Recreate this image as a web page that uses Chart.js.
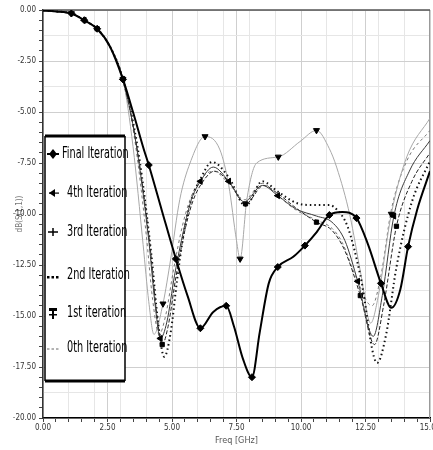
<!DOCTYPE html>
<html>
<head>
<meta charset="utf-8">
<script src="https://cdn.jsdelivr.net/npm/chart.js@4.4.0/dist/chart.umd.min.js"></script>
<style>
  html, body { margin: 0; padding: 0; background: #fff; }
  #wrap { width: 433px; height: 450px; }
</style>
</head>
<body>
<div id="wrap"><canvas id="s11" width="433" height="450"></canvas></div>
<script>
// shared low-frequency part (all iterations overlap here)
const headF  = [0, 0.5, 1.1, 1.6, 2.1, 2.6, 3.1];
const headDb = [-0.03, -0.07, -0.17, -0.5, -0.92, -1.8, -3.4];

const finalF  = headF.concat([3.5, 3.9, 4.1, 4.6, 5.15, 5.6, 6.1, 6.6, 7.1, 7.4, 7.75, 8.1, 8.4, 8.75, 9.1, 9.7, 10.15, 10.6, 11.1, 11.6, 12.15, 12.6, 13.1, 13.5, 13.85, 14.15, 14.5, 15]);
const finalDb = headDb.concat([-5.05, -6.8, -7.6, -9.8, -12.2, -14.0, -15.6, -14.8, -14.5, -15.5, -17.1, -18.0, -15.8, -13.4, -12.6, -12.1, -11.55, -10.9, -10.05, -9.9, -10.2, -11.5, -13.4, -14.6, -13.7, -11.6, -9.8, -7.9]);
const finalMarks = [1.1, 1.6, 2.1, 3.1, 4.1, 5.15, 6.1, 7.1, 8.1, 9.1, 10.15, 11.1, 12.15, 13.1, 14.15];

const it4F  = headF.concat([3.6, 4.1, 4.35, 4.55, 4.8, 5.1, 5.45, 5.75, 6.1, 6.6, 7.2, 7.8, 8.5, 9.1, 9.8, 10.6, 11.2, 11.7, 12.2, 12.8, 13.15, 13.6, 14.2, 15]);
const it4Db = headDb.concat([-6.5, -11.3, -14.5, -16.1, -15.3, -13.0, -10.8, -9.3, -8.4, -7.7, -8.4, -9.4, -8.6, -9.1, -9.75, -10.1, -10.4, -11.3, -13.3, -16.0, -14.0, -10.1, -7.9, -6.4]);
const it4Marks = [1.6, 3.1, 4.55, 6.1, 7.2, 9.1, 12.2, 13.6];

const it3F  = headF.concat([3.65, 4.15, 4.4, 4.62, 4.85, 5.15, 5.5, 5.8, 6.15, 6.65, 7.25, 7.85, 8.55, 9.1, 9.8, 10.6, 11.2, 11.7, 12.3, 12.85, 13.2, 13.7, 14.3, 15]);
const it3Db = headDb.concat([-6.8, -11.6, -14.8, -16.4, -15.5, -13.1, -10.8, -9.4, -8.5, -7.9, -8.5, -9.5, -8.6, -9.0, -9.7, -10.4, -10.8, -11.8, -14.0, -16.4, -14.5, -10.6, -8.4, -7.0]);
const it3Marks = [2.1, 4.62, 7.85, 10.6, 12.3, 13.7];

const it2F  = headF.concat([3.7, 4.2, 4.45, 4.7, 4.95, 5.2, 5.45, 5.7, 6.1, 6.55, 7.2, 7.85, 8.5, 9.1, 9.8, 10.4, 11.1, 11.4, 11.8, 12.3, 12.95, 13.3, 13.7, 14.3, 15]);
const it2Db = headDb.concat([-7.0, -12.0, -15.2, -17.0, -15.8, -13.2, -11.0, -9.5, -8.3, -7.45, -8.2, -9.6, -8.4, -8.9, -9.45, -9.56, -9.56, -9.8, -10.6, -13.0, -17.3, -15.9, -12.6, -9.4, -7.4]);

const it1F  = headF.concat([3.49, 3.88, 4.1, 4.3, 4.65, 4.95, 5.3, 5.7, 6.28, 6.86, 7.2, 7.5, 7.64, 7.9, 8.28, 9.12, 9.96, 10.6, 11.1, 11.38, 11.9, 12.3, 12.7, 13.0, 13.5, 14.1, 15]);
const it1Db = headDb.concat([-6.7, -11.5, -14.3, -15.9, -14.4, -12.2, -9.3, -7.5, -6.2, -6.86, -8.6, -11.3, -12.2, -9.3, -7.5, -7.2, -6.45, -5.9, -6.8, -7.7, -10.1, -12.8, -15.35, -14.0, -10.0, -7.2, -5.3]);
const it1Marks = [1.1, 3.1, 4.65, 6.28, 7.64, 9.12, 10.6, 13.5];

const it0F  = headF.concat([3.55, 4.0, 4.25, 4.5, 4.75, 5.05, 5.4, 5.7, 6.05, 6.6, 7.2, 7.8, 8.5, 9.1, 9.8, 10.6, 11.2, 11.6, 12.1, 12.75, 13.1, 13.5, 14.1, 15]);
const it0Db = headDb.concat([-6.3, -11.0, -14.2, -15.9, -15.0, -12.8, -10.6, -9.3, -8.4, -7.9, -8.5, -9.3, -8.5, -9.1, -9.8, -10.3, -10.7, -11.4, -13.0, -14.5, -13.0, -9.8, -7.4, -5.9]);

const seriesNames = ['Final Iteration', '4th Iteration', '3rd Iteration', '2nd Iteration', '1st iteration', '0th Iteration'];
const xTicks = [0, 2.5, 5, 7.5, 10, 12.5, 15];
const yTicks = [0, -2.5, -5, -7.5, -10, -12.5, -15, -17.5, -20];

const NARROW = "'Liberation Sans Narrow', 'DejaVu Sans Condensed', sans-serif";

function series(label, F, dB, marks, style) {
  return Object.assign({
    label: label,
    data: F.map((f, i) => ({ x: f, y: dB[i] })),
    cubicInterpolationMode: 'monotone',
    pointRadius: c => marks.includes(F[c.dataIndex]) ? 3.5 : 0,
    pointHoverRadius: 0,
    pointBackgroundColor: '#000',
    pointBorderColor: '#000',
    pointBorderWidth: 1,
    fill: false
  }, style);
}

const near = (v, s) => Math.abs(v / s - Math.round(v / s)) < 1e-6;

// legend drawn inside the plot like the original
const legendBox = {
  id: 'legendBox',
  afterDraw(chart) {
    const ctx = chart.ctx;
    const a = chart.chartArea;
    const L = a.left + 2, T = a.top + 126, W = 80, H = 245;
    ctx.save();
    ctx.fillStyle = '#fff';
    ctx.fillRect(L, T, W, H);
    ctx.strokeStyle = '#000';
    ctx.lineWidth = 1.5;
    ctx.beginPath();
    ctx.moveTo(L, T); ctx.lineTo(L, T + H);
    ctx.moveTo(L + W, T); ctx.lineTo(L + W, T + H);
    ctx.stroke();
    ctx.lineWidth = 3;
    ctx.beginPath();
    ctx.moveTo(L, T); ctx.lineTo(L + W, T);
    ctx.moveTo(L, T + H); ctx.lineTo(L + W, T + H);
    ctx.stroke();

    const rowY = [18, 57, 96, 139, 177, 212];
    seriesNames.forEach((name, i) => {
      const y = T + rowY[i];
      const sx = L + 8;
      ctx.fillStyle = '#000';
      ctx.strokeStyle = '#000';
      ctx.lineWidth = 1.5;
      ctx.setLineDash([]);
      if (i === 0) {
        ctx.beginPath();
        ctx.moveTo(sx, y - 5); ctx.lineTo(sx + 4, y); ctx.lineTo(sx, y + 5); ctx.lineTo(sx - 4, y);
        ctx.closePath(); ctx.fill();
        ctx.fillRect(sx - 6, y - 1, 12, 2);
      } else if (i === 1) {
        ctx.beginPath();
        ctx.moveTo(sx - 4, y); ctx.lineTo(sx + 2, y - 4); ctx.lineTo(sx + 2, y + 4);
        ctx.closePath(); ctx.fill();
        ctx.fillRect(sx - 4, y - 0.5, 10, 1.2);
      } else if (i === 2) {
        ctx.beginPath();
        ctx.moveTo(sx - 5, y); ctx.lineTo(sx + 5, y);
        ctx.moveTo(sx, y - 4); ctx.lineTo(sx, y + 4);
        ctx.stroke();
      } else if (i === 3) {
        for (let k = 0; k < 3; k++) ctx.fillRect(L + 2 + k * 4.5, y + 1, 2.5, 2.5);
      } else if (i === 4) {
        ctx.fillRect(sx - 4, y - 5, 8, 3);
        ctx.fillRect(sx - 1, y - 5, 2, 11);
        ctx.fillRect(sx - 4, y + 1, 8, 1.5);
      } else {
        ctx.strokeStyle = '#666';
        ctx.lineWidth = 1;
        ctx.setLineDash([2.5, 2]);
        ctx.beginPath();
        ctx.moveTo(L + 2, y + 1); ctx.lineTo(L + 14, y + 1);
        ctx.stroke();
        ctx.setLineDash([]);
      }
      ctx.save();
      ctx.fillStyle = '#000';
      ctx.font = '15px ' + NARROW;
      ctx.textBaseline = 'middle';
      ctx.translate(L + (i === 0 ? 17 : 22), y);
      ctx.scale(0.72, 1);
      ctx.fillText(name, 0, 0);
      ctx.restore();
    });
    ctx.restore();
  }
};

const frame = {
  id: 'frame',
  beforeDatasetsDraw(chart) {
    const ctx = chart.ctx, a = chart.chartArea;
    ctx.save();
    ctx.lineWidth = 1;
    ctx.strokeStyle = '#999';
    ctx.beginPath();
    ctx.moveTo(a.right - 0.5, a.top); ctx.lineTo(a.right - 0.5, a.bottom);
    ctx.stroke();
    ctx.strokeStyle = '#555';
    ctx.lineWidth = 1.5;
    ctx.beginPath();
    ctx.moveTo(a.left, a.top); ctx.lineTo(a.right, a.top);
    ctx.stroke();
    ctx.restore();
  }
};

new Chart(document.getElementById('s11'), {
  type: 'line',
  data: {
    datasets: [
      series(seriesNames[0], finalF, finalDb, finalMarks,
        { borderColor: '#000', borderWidth: 2, pointStyle: 'rectRot' }),
      series(seriesNames[1], it4F, it4Db, it4Marks,
        { borderColor: '#3a3a3a', borderWidth: 1, pointStyle: 'triangle', rotation: -90 }),
      series(seriesNames[2], it3F, it3Db, it3Marks,
        { borderColor: '#222', borderWidth: 1, borderDash: [4, 2], pointStyle: 'rect', pointRadius: c => it3Marks.includes(it3F[c.dataIndex]) ? 3 : 0 }),
      series(seriesNames[3], it2F, it2Db, [],
        { borderColor: '#111', borderWidth: 2, borderDash: [1.5, 3] }),
      series(seriesNames[4], it1F, it1Db, it1Marks,
        { borderColor: '#a8a8a8', borderWidth: 1, pointStyle: 'triangle', rotation: 180 }),
      series(seriesNames[5], it0F, it0Db, [],
        { borderColor: '#777', borderWidth: 1, borderDash: [3, 3] })
    ]
  },
  options: {
    responsive: false,
    animation: false,
    layout: { padding: { top: 10, right: 3, left: 0, bottom: 0 } },
    plugins: { legend: { display: false }, tooltip: { enabled: false } },
    scales: {
      x: {
        type: 'linear', min: 0, max: 15,
        afterFit: s => { s.height = 32; s.paddingLeft = 0; s.paddingRight = 0; },
        ticks: {
          stepSize: 0.5, autoSkip: false, maxRotation: 0, padding: 1,
          color: '#333', font: { family: NARROW, size: 8 },
          callback: v => xTicks.some(t => Math.abs(t - v) < 1e-6) ? v.toFixed(2) : ''
        },
        grid: {
          color: c => near(c.tick.value, 2.5) ? '#cfcfcf' : near(c.tick.value, 1) ? '#e6e6e6' : 'rgba(0,0,0,0)',
          tickColor: '#444', tickLength: 4
        },
        border: { color: '#000', width: 1.5 },
        title: { display: true, text: 'Freq [GHz]', color: '#555', font: { family: NARROW, size: 9 }, padding: { top: 0, bottom: 4 } }
      },
      y: {
        type: 'linear', min: -20, max: 0,
        afterFit: s => { s.width = 43; s.paddingTop = 0; s.paddingBottom = 0; },
        ticks: {
          stepSize: 0.25, autoSkip: false, padding: 3,
          color: '#333', font: { family: NARROW, size: 8 },
          callback: v => yTicks.some(t => Math.abs(t - v) < 1e-6) ? v.toFixed(2) : ''
        },
        grid: {
          color: c => near(c.tick.value, 2.5) ? '#cfcfcf' : near(c.tick.value, 1.25) ? '#e6e6e6' : 'rgba(0,0,0,0)',
          tickColor: c => near(c.tick.value, 0.5) ? '#444' : 'rgba(0,0,0,0)', tickLength: 4
        },
        border: { color: '#333', width: 1.5 },
        title: { display: true, text: 'dB(S(1,1))', color: '#777', font: { family: NARROW, size: 8 }, padding: { top: 15, bottom: 0 } }
      }
    }
  },
  plugins: [frame, legendBox]
});
</script>
</body>
</html>
